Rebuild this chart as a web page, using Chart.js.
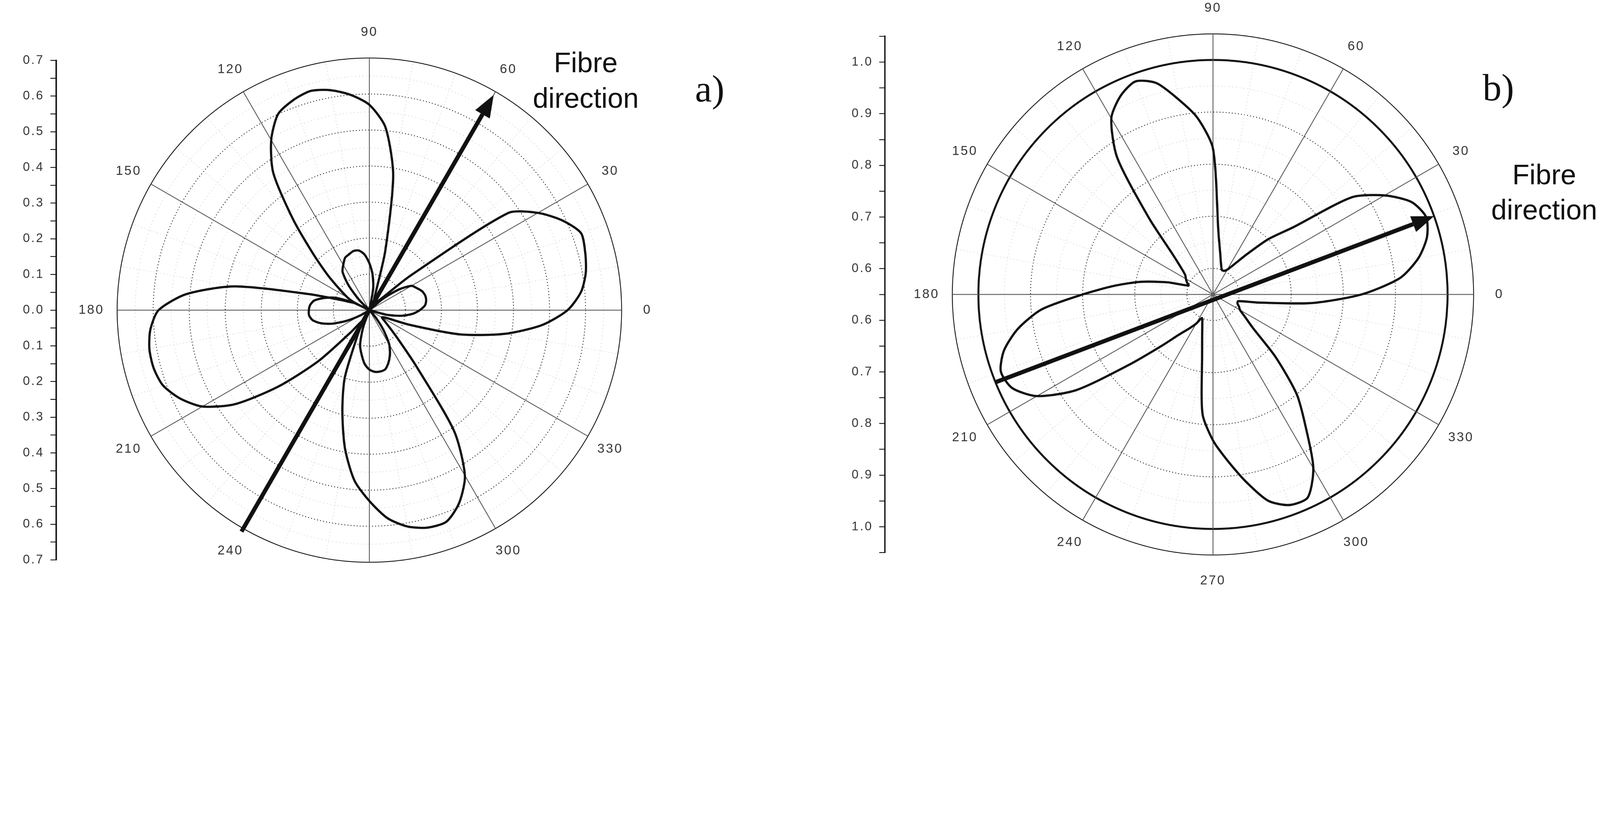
<!DOCTYPE html>
<html><head><meta charset="utf-8">
<script src="https://cdn.jsdelivr.net/npm/chart.js@4.4.1/dist/chart.umd.min.js"></script>
<style>
html,body{margin:0;padding:0;background:#fff;overflow:hidden}
#stage{position:absolute;left:0;top:0;width:5709px;height:2141px;transform-origin:0 0;background:#fff}
canvas{position:absolute}
.t{position:absolute;font-family:"Liberation Sans",Arial,sans-serif;font-size:100px;line-height:126px;color:#111;text-align:center;white-space:nowrap}
.p{position:absolute;font-family:"Liberation Serif","Times New Roman",serif;font-size:135px;color:#111}
</style></head><body>
<div id="stage">
<canvas id="axA" width="260" height="1880" style="left:0;top:167px"></canvas>
<canvas id="polA" width="2200" height="2140" style="left:218px;top:37px"></canvas>
<canvas id="axB" width="260" height="1940" style="left:2950px;top:81px"></canvas>
<canvas id="polB" width="2260" height="2140" style="left:3198px;top:-19px"></canvas>
<div class="t" style="left:1860px;top:160px;width:460px">Fibre<br>direction</div>
<div class="p" style="left:2480px;top:240px">a)</div>
<div class="t" style="left:5290px;top:560px;width:440px">Fibre<br>direction</div>
<div class="p" style="left:5290px;top:235px">b)</div>
</div>
<script>
(function(){
  const s = Math.min(window.innerWidth/5709, window.innerHeight/2141) || 1;
  document.getElementById('stage').style.transform = 'scale('+s+')';
})();
// ---- data ----
const angles = [0,5,10,15,20,25,30,35,40,45,50,55,60,65,70,75,80,85,90,95,100,105,110,115,120,125,130,135,140,145,150,155,160,165,170,175,180,185,190,195,200,205,210,215,220,225,230,235,240,245,250,255,260,265,270,275,280,285,290,295,300,305,310,315,320,325,330,335,340,345,350,355];
const outerA = [0.55,0.59,0.61,0.62,0.625,0.59,0.54,0.47,0.15,0.04,0.03,0.03,0.03,0.03,0.05,0.17,0.38,0.51,0.57,0.60,0.62,0.63,0.62,0.60,0.545,0.465,0.33,0.22,0.15,0.10,0.07,0.05,0.08,0.17,0.38,0.51,0.585,0.61,0.62,0.62,0.61,0.58,0.535,0.455,0.33,0.20,0.08,0.04,0.04,0.08,0.20,0.29,0.39,0.475,0.53,0.58,0.61,0.625,0.625,0.59,0.53,0.41,0.20,0.11,0.07,0.05,0.04,0.05,0.12,0.26,0.38,0.48];
const innerA = [0.14,0.155,0.16,0.16,0.155,0.145,0.135,0.10,0.05,0,0,0,0,0,0,0,0.06,0.10,0.13,0.155,0.168,0.17,0.165,0.16,0.145,0.13,0.09,0.04,0,0,0,0.05,0.10,0.13,0.155,0.165,0.168,0.168,0.16,0.14,0.11,0.07,0.03,0,0,0,0,0,0,0,0.05,0.10,0.125,0.15,0.165,0.172,0.173,0.17,0.155,0.135,0.11,0.07,0.03,0,0,0,0,0,0,0.05,0.09,0.12];
const curveB = [0.835,0.91,0.95,0.975,0.985,0.97,0.93,0.875,0.75,0.70,0.65,0.62,0.605,0.60,0.60,0.61,0.63,0.67,0.83,0.89,0.93,0.97,0.985,0.97,0.94,0.87,0.74,0.66,0.63,0.615,0.61,0.605,0.60,0.64,0.69,0.74,0.80,0.88,0.93,0.965,0.983,0.975,0.94,0.87,0.76,0.69,0.65,0.63,0.615,0.60,0.61,0.63,0.67,0.78,0.83,0.87,0.915,0.96,0.98,0.98,0.935,0.86,0.80,0.72,0.65,0.625,0.61,0.605,0.60,0.60,0.64,0.74];
const labelAnglesA = [0,30,60,90,120,150,180,210,240,300,330];
const labelAnglesB = [0,30,60,90,120,150,180,210,240,270,300,330];
const arrowA_deg = [240,60], arrowA_r = [0.71,0.69];
const arrowB_deg = [202,19.5], arrowB_r = [1.0,1.0];
const rangeA = [0,0.7], rangeB = [0.55,1.05];

const order = [];
for (let i=0;i<72;i++){ order.push(((90 - 5*i) % 360 + 360) % 360); }
const pick = arr => order.map(t => arr[angles.indexOf(t)]);

const FONT = '"Liberation Sans", Arial, sans-serif';
const spacing = {id:'sp', beforeDraw(c){ c.ctx.letterSpacing='5px'; }};

function polarPlugin(labelAngles, arrowDeg, arrowR){
  return {id:'pol', afterDraw(chart){
    const s = chart.scales.r, ctx = chart.ctx;
    const R = s.drawingArea, cx = s.xCenter, cy = s.yCenter;
    ctx.save();
    ctx.font = '46px '+FONT; ctx.fillStyle='#333'; ctx.textAlign='center'; ctx.textBaseline='middle';
    ctx.letterSpacing='5px';
    labelAngles.forEach(a=>{
      const rad=a*Math.PI/180, d=R+92;
      ctx.fillText(String(a), cx+d*Math.cos(rad), cy-d*Math.sin(rad));
    });
    const P = (deg,val)=>{const d=s.getDistanceFromCenterForValue(val), rad=deg*Math.PI/180; return [cx+d*Math.cos(rad), cy-d*Math.sin(rad)];};
    const [x0,y0]=P(arrowDeg[0],arrowR[0]), [x1,y1]=P(arrowDeg[1],arrowR[1]);
    const ang=Math.atan2(y1-y0,x1-x0), L=80, W=30;
    const bx=x1-L*Math.cos(ang), by=y1-L*Math.sin(ang);
    ctx.strokeStyle='#111'; ctx.lineWidth=15; ctx.lineCap='butt';
    ctx.beginPath(); ctx.moveTo(x0,y0); ctx.lineTo(bx,by); ctx.stroke();
    ctx.fillStyle='#111'; ctx.beginPath(); ctx.moveTo(x1,y1);
    ctx.lineTo(bx+W*Math.sin(ang), by-W*Math.cos(ang));
    ctx.lineTo(bx-W*Math.sin(ang), by+W*Math.cos(ang)); ctx.closePath(); ctx.fill();
    ctx.restore();
  }};
}

function angleLineOpts(){
  return {
    color: c => { const t=order[c.index]; return t%30===0 ? '#555' : (t%10===0 ? '#c8c8c8' : 'rgba(0,0,0,0)'); },
    lineWidth: c => { const t=order[c.index]; return t%30===0 ? 3 : 2; },
    borderDash: c => { const t=order[c.index]; return t%30===0 ? [] : [3,9]; }
  };
}

function makePolar(id, datasets, range, isB, labelAngles, arrowDeg, arrowR, pad){
  const major = v => Math.abs(Math.round(v*100)%10)===0;
  new Chart(document.getElementById(id), {
    type:'radar',
    data:{labels: order.map(String), datasets},
    options:{
      responsive:false, animation:false,
      layout:{padding:pad},
      plugins:{legend:{display:false}, tooltip:{enabled:false}},
      elements:{point:{radius:0}},
      scales:{r:{
        min:range[0], max:range[1], beginAtZero:!isB,
        ticks:{display:false, stepSize:0.05},
        pointLabels:{display:false},
        angleLines: angleLineOpts(),
        grid:{circular:true,
          color: c => { const v=c.tick.value; if (Math.abs(v-range[1])<1e-6) return '#111'; if (isB && Math.abs(v-1.0)<1e-6) return '#111'; return major(v)?'#111':'#c4c4c4'; },
          lineWidth: c => { const v=c.tick.value; if (Math.abs(v-range[1])<1e-6) return 3; if (isB && Math.abs(v-1.0)<1e-6) return 7; return major(v)?3:2; }
        },
        border:{ dash: c => { const v=c.tick.value; if (Math.abs(v-range[1])<1e-6) return []; if (isB && Math.abs(v-1.0)<1e-6) return []; return major(v)?[3,8]:[3,10]; } }
      }}
    },
    plugins:[polarPlugin(labelAngles, arrowDeg, arrowR)]
  });
}

const lineDs = data => ({data, borderColor:'#111', borderWidth:8, fill:false, tension:0.25, pointRadius:0});
// polA: 2200x2140, r=900 -> padding lr 200, tb 170 ; polB: 2260x2140, r=930 -> lr 200, tb 140
makePolar('polA', [lineDs(pick(outerA)), lineDs(pick(innerA))], rangeA, false, labelAnglesA, arrowA_deg, arrowA_r, {left:200,right:200,top:170,bottom:170});
makePolar('polB', [lineDs(pick(curveB))], rangeB, true, labelAnglesB, arrowB_deg, arrowB_r, {left:200,right:200,top:140,bottom:140});

function makeAxis(id, min, max, width, labelFn){
  new Chart(document.getElementById(id), {
    type:'scatter', data:{datasets:[{data:[]}]},
    options:{
      responsive:false, animation:false,
      layout:{padding:{top:40,bottom:40,left:0,right:0}},
      plugins:{legend:{display:false}, tooltip:{enabled:false}},
      scales:{
        x:{display:false},
        y:{min, max, afterFit(s){s.width=width;},
          ticks:{stepSize:0.05, autoSkip:false, color:'#333', font:{family:FONT,size:44}, padding:22, callback:labelFn},
          grid:{drawOnChartArea:false, drawTicks:true, tickLength:20, color:'#111', lineWidth:3},
          border:{display:true, color:'#111', width:5}
        }
      }
    },
    plugins:[spacing]
  });
}
makeAxis('axA', -0.7, 0.7, 200, v => { const n=Math.round(v*100); return n%10===0 ? Math.abs(v).toFixed(1) : ''; });
makeAxis('axB', -0.5, 0.5, 207, v => { const r=0.55+Math.abs(v); const n=Math.round(r*100); return (Math.abs(v)>0.01 && n%10===0) ? r.toFixed(1) : ''; });
</script>
</body></html>
